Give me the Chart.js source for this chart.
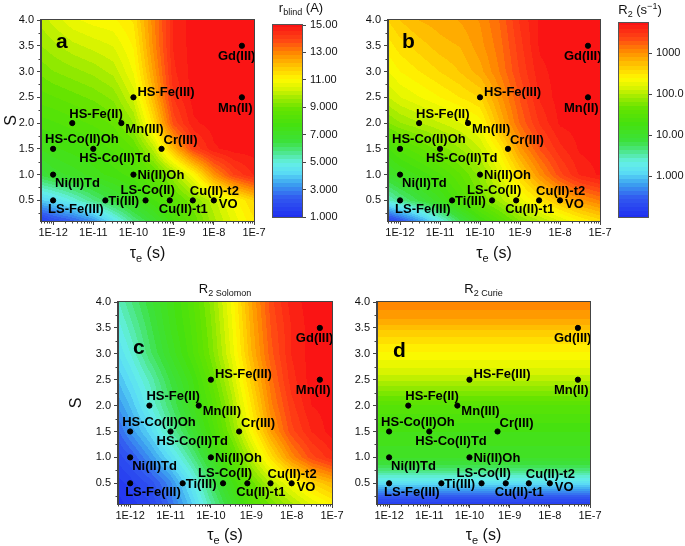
<!DOCTYPE html>
<html>
<head>
<meta charset="utf-8">
<script src="https://cdn.jsdelivr.net/npm/chart.js@4.4.1/dist/chart.umd.min.js"></script>
<style>
  body { margin: 0; background: #fff; }
  #page { position: relative; width: 685px; height: 546px; overflow: hidden; }
  canvas { position: absolute; }
</style>
</head>
<body>
<div id="page">
  <canvas id="chartA" style="left:0px;top:0px" width="268" height="268"></canvas>
  <canvas id="chartB" style="left:345px;top:0px" width="268" height="268"></canvas>
  <canvas id="chartC" style="left:60px;top:280px" width="285" height="266"></canvas>
  <canvas id="chartD" style="left:340px;top:280px" width="280" height="266"></canvas>
  <canvas id="barA" style="left:260px;top:0px" width="85" height="230"></canvas>
  <canvas id="barB" style="left:605px;top:0px" width="80" height="230"></canvas>
</div>
<script>
// ions and their electronic relaxation time / spin
const complexes = ['Gd(III)', 'Mn(II)', 'HS-Fe(III)', 'HS-Fe(II)', 'Mn(III)', 'HS-Co(II)Oh', 'HS-Co(II)Td', 'Cr(III)',
                   'Ni(II)Td', 'Ni(II)Oh', 'LS-Fe(III)', 'Ti(III)', 'LS-Co(II)', 'Cu(II)-t1', 'Cu(II)-t2', 'VO'];
const tauE = [5e-8, 5e-8, 1e-10, 3e-12, 5e-11, 1e-12, 1e-11, 5e-10, 1e-12, 1e-10, 1e-12, 2e-11, 2e-10, 8e-10, 3e-9, 1e-8];
const spinS = [3.5, 2.5, 2.5, 2.0, 2.0, 1.5, 1.5, 1.5, 1.0, 1.0, 0.5, 0.5, 0.5, 0.5, 0.5, 0.5];

const xTickValues = [1e-12, 1e-11, 1e-10, 1e-9, 1e-8, 1e-7];
const xTickLabels = ['1E-12', '1E-11', '1E-10', '1E-9', '1E-8', '1E-7'];
const yTickValues = [0.5, 1.0, 1.5, 2.0, 2.5, 3.0, 3.5, 4.0];
const yTickLabels = ['0.5', '1.0', '1.5', '2.0', '2.5', '3.0', '3.5', '4.0'];

// contour maps: columns = log10(tau_e), rows = S
const gridLogTau = [-12.3, -12, -11.5, -11, -10.5, -10, -9.5, -9, -8.5, -8, -7.5, -7];
const gridSpin = [0.1, 0.5, 1.0, 1.5, 2.0, 2.5, 3.0, 3.5, 4.0];

// r_blind in Angstrom
const rBlind = [
  [1.5, 2.0, 2.5, 3.2, 4.5, 5.8, 6.8, 7.8, 8.8, 9.8, 10.6, 11.3],
  [4.0, 4.3, 5.0, 5.8, 6.5, 7.2, 7.8, 8.5, 9.3, 10.1, 10.9, 11.7],
  [6.5, 6.8, 7.1, 7.4, 7.7, 8.0, 8.6, 9.6, 11.0, 12.8, 14.0, 14.6],
  [7.3, 7.5, 7.7, 7.9, 8.2, 8.7, 10.0, 12.2, 14.0, 14.8, 15, 15],
  [8.0, 8.1, 8.3, 8.5, 8.8, 9.6, 11.5, 13.8, 14.8, 15, 15, 15],
  [8.6, 8.7, 8.9, 9.1, 9.4, 10.3, 12.2, 14.3, 15, 15, 15, 15],
  [9.1, 9.3, 9.5, 9.7, 10.0, 10.8, 12.6, 14.5, 15, 15, 15, 15],
  [9.6, 9.8, 10.1, 10.3, 10.5, 11.1, 12.9, 14.6, 15, 15, 15, 15],
  [10.0, 10.3, 10.7, 10.9, 11.0, 11.4, 13.0, 14.6, 15, 15, 15, 15]
];
// log10 of R2 (s^-1)
const r2Log = [
  [-0.8, -0.6, -0.2, 0.3, 0.8, 1.2, 1.5, 1.8, 2.0, 2.2, 2.4, 2.55],
  [0.4, 0.6, 0.85, 1.1, 1.4, 1.7, 1.95, 2.25, 2.5, 2.75, 2.95, 3.1],
  [1.0, 1.1, 1.25, 1.4, 1.6, 1.85, 2.2, 2.6, 3.0, 3.35, 3.6, 3.7],
  [1.3, 1.45, 1.6, 1.75, 1.9, 2.1, 2.45, 2.95, 3.3, 3.55, 3.7, 3.73],
  [1.8, 1.9, 2.0, 2.1, 2.2, 2.35, 2.8, 3.2, 3.5, 3.7, 3.73, 3.73],
  [2.1, 2.2, 2.3, 2.4, 2.5, 2.6, 2.95, 3.3, 3.6, 3.73, 3.73, 3.73],
  [2.3, 2.4, 2.5, 2.6, 2.7, 2.85, 3.1, 3.4, 3.65, 3.73, 3.73, 3.73],
  [2.45, 2.55, 2.65, 2.75, 2.8, 2.95, 3.15, 3.45, 3.7, 3.73, 3.73, 3.73],
  [2.6, 2.7, 2.8, 2.85, 2.9, 3.0, 3.2, 3.5, 3.7, 3.73, 3.73, 3.73]
];
// relative level of R2 Solomon (0 = blue, 1 = red)
const r2Solomon = [
  [0.0, 0.02, 0.05, 0.12, 0.21, 0.32, 0.42, 0.52, 0.58, 0.63, 0.68, 0.72],
  [0.02, 0.04, 0.08, 0.15, 0.25, 0.36, 0.46, 0.56, 0.64, 0.70, 0.76, 0.80],
  [0.06, 0.09, 0.16, 0.24, 0.33, 0.43, 0.53, 0.64, 0.75, 0.85, 0.92, 0.96],
  [0.11, 0.16, 0.23, 0.32, 0.40, 0.49, 0.59, 0.71, 0.83, 0.92, 0.97, 1],
  [0.16, 0.20, 0.28, 0.36, 0.44, 0.52, 0.62, 0.74, 0.86, 0.94, 0.99, 1],
  [0.20, 0.24, 0.31, 0.39, 0.46, 0.55, 0.65, 0.77, 0.88, 0.96, 1, 1],
  [0.24, 0.28, 0.36, 0.43, 0.50, 0.58, 0.68, 0.80, 0.90, 0.97, 1, 1],
  [0.27, 0.31, 0.38, 0.45, 0.51, 0.59, 0.69, 0.81, 0.91, 0.97, 1, 1],
  [0.30, 0.34, 0.40, 0.46, 0.52, 0.60, 0.70, 0.82, 0.92, 0.98, 1, 1]
];
// R2 Curie only depends on S
const curieSpin = [0.1, 0.25, 0.4, 0.52, 0.65, 0.8, 1.0, 1.5, 2.0, 2.3, 2.6, 2.9, 3.2, 3.45, 3.65, 3.9, 4.0];
const r2Curie = [0.03, 0.10, 0.18, 0.25, 0.30, 0.37, 0.43, 0.47, 0.53, 0.60, 0.66, 0.70, 0.74, 0.78, 0.82, 0.85, 0.86];

// colorbar ticks
const rBlindTicks = [1, 3, 5, 7, 9, 11, 13, 15];
const rBlindLabels = ['1.000', '3.000', '5.000', '7.000', '9.000', '11.00', '13.00', '15.00'];
const r2Ticks = [1, 10, 100, 1000];
const r2Labels = ['1.000', '10.00', '100.0', '1000'];

// label placement next to each point (px)
const labelOffsets = [[-24, 11], [-24, 11], [4, -5], [-3, -9], [4, 6], [-8, -9], [-14, 10], [2, -8],
                      [2, 9], [4, 1], [-5, 9], [3, 1], [-25, -10], [-11, 9], [-3, -9], [5, 4]];

const FONT = '"Liberation Sans", Arial, sans-serif';
const LEVELS = 48; // contour fill steps
const rainbowStops = [
  [0.00, 32, 48, 240], [0.10, 50, 90, 240], [0.17, 60, 160, 240], [0.23, 90, 220, 245],
  [0.28, 100, 240, 230], [0.33, 80, 232, 150], [0.39, 60, 225, 60], [0.48, 70, 225, 15],
  [0.56, 100, 228, 0], [0.62, 160, 235, 0], [0.67, 220, 245, 0], [0.715, 255, 250, 0],
  [0.78, 255, 200, 0], [0.85, 255, 140, 0], [0.92, 255, 70, 20], [1.00, 250, 20, 20]
];

function rainbow(t) {
  t = Math.max(0, Math.min(1, t));
  t = Math.round(t * LEVELS) / LEVELS;
  for (let i = 1; i < rainbowStops.length; i++) {
    const a = rainbowStops[i - 1], b = rainbowStops[i];
    if (t <= b[0]) {
      const f = (t - a[0]) / (b[0] - a[0]);
      return [a[1] + (b[1] - a[1]) * f, a[2] + (b[2] - a[2]) * f, a[3] + (b[3] - a[3]) * f];
    }
  }
  return rainbowStops[rainbowStops.length - 1].slice(1);
}

function locate(arr, v) {
  if (v <= arr[0]) return [0, 0];
  for (let i = 1; i < arr.length; i++) {
    if (v <= arr[i]) return [i - 1, (v - arr[i - 1]) / (arr[i] - arr[i - 1])];
  }
  return [arr.length - 2, 1];
}

function gridLevel(grid, lt, s) {
  const [i, fx] = locate(gridLogTau, lt);
  const [j, fy] = locate(gridSpin, s);
  const a = grid[j][i] * (1 - fx) + grid[j][i + 1] * fx;
  const b = grid[j + 1][i] * (1 - fx) + grid[j + 1][i + 1] * fx;
  return a * (1 - fy) + b * fy;
}

function drawRich(ctx, parts, x, y, align) {
  let w = 0;
  parts.forEach(p => { ctx.font = p.font; w += ctx.measureText(p.text).width; });
  let cx = align === 'center' ? x - w / 2 : x;
  ctx.textAlign = 'left';
  ctx.textBaseline = 'alphabetic';
  ctx.fillStyle = '#111';
  parts.forEach(p => {
    ctx.font = p.font;
    ctx.fillText(p.text, cx, y + (p.dy || 0));
    cx += ctx.measureText(p.text).width;
  });
}

const tauTitle = [
  { text: 'τ', font: '16px ' + FONT },
  { text: 'e', font: '11px ' + FONT, dy: 4 },
  { text: ' (s)', font: '16px ' + FONT }
];

const panelPlugin = {
  id: 'panel',
  beforeDraw(chart, args, o) {
    const { ctx, chartArea: a, scales: { x, y } } = chart;
    const w = Math.round(a.right - a.left), h = Math.round(a.bottom - a.top);
    const off = document.createElement('canvas');
    off.width = w; off.height = h;
    const octx = off.getContext('2d');
    const img = octx.createImageData(w, h);
    for (let j = 0; j < h; j++) {
      const s = y.getValueForPixel(a.top + j + 0.5);
      for (let i = 0; i < w; i++) {
        const lt = Math.log10(x.getValueForPixel(a.left + i + 0.5));
        const c = rainbow(o.level(lt, s));
        const k = (j * w + i) * 4;
        img.data[k] = c[0]; img.data[k + 1] = c[1]; img.data[k + 2] = c[2]; img.data[k + 3] = 255;
      }
    }
    octx.putImageData(img, 0, 0);
    ctx.drawImage(off, a.left, a.top);
  },
  afterDraw(chart, args, o) {
    const { ctx, chartArea: a, scales: { x, y } } = chart;
    ctx.save();
    // point labels
    const meta = chart.getDatasetMeta(0);
    ctx.font = 'bold 13px ' + FONT;
    ctx.fillStyle = '#000';
    ctx.textAlign = 'left';
    ctx.textBaseline = 'middle';
    meta.data.forEach((pt, i) => {
      ctx.fillText(complexes[i], pt.x + labelOffsets[i][0], pt.y + labelOffsets[i][1]);
    });
    // frame
    ctx.strokeStyle = '#444';
    ctx.lineWidth = 1;
    ctx.strokeRect(a.left - 0.5, a.top - 0.5, a.right - a.left + 1, a.bottom - a.top + 1);
    // minor ticks
    ctx.beginPath();
    for (let e = -13; e <= -8; e++) {
      for (let m = 2; m <= 9; m++) {
        const v = m * Math.pow(10, e);
        if (v < x.min || v > x.max) continue;
        const px = Math.round(x.getPixelForValue(v)) + 0.5;
        ctx.moveTo(px, a.bottom); ctx.lineTo(px, a.bottom + 2.5);
      }
    }
    for (let v = 0.25; v < 4; v += 0.5) {
      const py = Math.round(y.getPixelForValue(v)) + 0.5;
      ctx.moveTo(a.left, py); ctx.lineTo(a.left - 2.5, py);
    }
    ctx.stroke();
    // panel letter
    ctx.font = 'bold 21px ' + FONT;
    ctx.fillStyle = '#000';
    ctx.textBaseline = 'alphabetic';
    ctx.fillText(o.letter, a.left + o.letterPos[0], a.top + o.letterPos[1]);
    // axis titles
    const cx = (a.left + a.right) / 2;
    drawRich(ctx, tauTitle, cx, a.bottom + o.xTitleGap, 'center');
    if (o.yTitleX) {
      ctx.save();
      ctx.translate(o.yTitleX, (a.top + a.bottom) / 2);
      ctx.rotate(-Math.PI / 2);
      ctx.font = '16px ' + FONT;
      ctx.fillStyle = '#111';
      ctx.textAlign = 'center';
      ctx.textBaseline = 'middle';
      ctx.fillText('S', 0, 0);
      ctx.restore();
    }
    if (o.title) drawRich(ctx, o.title, cx, a.top - 9, 'center');
    ctx.restore();
  }
};

function makePanel(id, area, w, h, opts) {
  const tickFont = { family: FONT, size: 11 };
  return new Chart(document.getElementById(id), {
    type: 'scatter',
    data: {
      datasets: [{
        data: tauE.map((t, i) => ({ x: t, y: spinS[i] })),
        backgroundColor: '#000',
        borderColor: '#000',
        pointRadius: 2.6,
        pointHoverRadius: 2.6
      }]
    },
    options: {
      responsive: false,
      animation: false,
      devicePixelRatio: 1,
      events: [],
      layout: { padding: { top: area.top, right: w - area.right, left: 0, bottom: 0 } },
      scales: {
        x: {
          type: 'logarithmic',
          min: 5e-13,
          max: 1e-7,
          afterFit: s => { s.height = h - area.bottom; },
          afterBuildTicks: s => { s.ticks = xTickValues.map(v => ({ value: v })); },
          ticks: { callback: (v, i) => xTickLabels[i], font: tickFont, color: '#111', padding: 1, maxRotation: 0, autoSkip: false },
          grid: { drawOnChartArea: false, tickLength: 4, tickColor: '#444' },
          border: { color: '#444' }
        },
        y: {
          min: 0.1,
          max: 4.0,
          afterFit: s => { s.width = area.left; },
          afterBuildTicks: s => { s.ticks = yTickValues.map(v => ({ value: v })); },
          ticks: { callback: (v, i) => yTickLabels[i], font: tickFont, color: '#111', padding: 3, autoSkip: false },
          grid: { drawOnChartArea: false, tickLength: 4, tickColor: '#444' },
          border: { color: '#444' }
        }
      },
      plugins: { legend: { display: false }, tooltip: { enabled: false }, panel: opts }
    },
    plugins: [panelPlugin]
  });
}

const barPlugin = {
  id: 'bar',
  beforeDraw(chart, args, o) {
    const { ctx, chartArea: a, scales: { y } } = chart;
    for (let j = Math.floor(a.top); j < a.bottom; j++) {
      const c = rainbow(o.level(y.getValueForPixel(j + 0.5)));
      ctx.fillStyle = `rgb(${c[0] | 0},${c[1] | 0},${c[2] | 0})`;
      ctx.fillRect(a.left, j, a.right - a.left, 1);
    }
  },
  afterDraw(chart, args, o) {
    const { ctx, chartArea: a } = chart;
    ctx.save();
    ctx.strokeStyle = '#555';
    ctx.lineWidth = 1;
    ctx.strokeRect(a.left - 0.5, a.top - 0.5, a.right - a.left + 1, a.bottom - a.top + 1);
    drawRich(ctx, o.title, o.titleX, o.titleY, 'center');
    ctx.restore();
  }
};

function makeBar(id, area, w, h, yOpts, opts) {
  return new Chart(document.getElementById(id), {
    type: 'scatter',
    data: { datasets: [] },
    options: {
      responsive: false,
      animation: false,
      devicePixelRatio: 1,
      events: [],
      layout: { padding: { top: area.top, left: area.left, right: 0, bottom: h - area.bottom } },
      scales: {
        x: { display: false },
        y: Object.assign({
          position: 'right',
          afterFit: s => { s.width = w - area.right; },
          grid: { drawOnChartArea: false, tickLength: 4, tickColor: '#444' },
          border: { color: '#555' }
        }, yOpts)
      },
      plugins: { legend: { display: false }, tooltip: { enabled: false }, bar: opts }
    },
    plugins: [barPlugin]
  });
}

document.addEventListener('DOMContentLoaded', function() {
  makePanel('chartA', { left: 41, top: 20, right: 254, bottom: 221 }, 268, 268, {
    level: (lt, s) => (gridLevel(rBlind, lt, s) - 1) / 14,
    letter: 'a', letterPos: [15, 28], xTitleGap: 37, yTitleX: 12
  });
  makePanel('chartB', { left: 43, top: 20, right: 255, bottom: 221 }, 268, 268, {
    level: (lt, s) => (gridLevel(r2Log, lt, s) + 1) / 4.73,
    letter: 'b', letterPos: [14, 28], xTitleGap: 37
  });
  makePanel('chartC', { left: 58, top: 22, right: 272, bottom: 224 }, 285, 266, {
    level: (lt, s) => gridLevel(r2Solomon, lt, s),
    letter: 'c', letterPos: [15, 52], xTitleGap: 36, yTitleX: 17,
    title: [{ text: 'R', font: '13px ' + FONT }, { text: '2 Solomon', font: '9px ' + FONT, dy: 3 }]
  });
  makePanel('chartD', { left: 37, top: 22, right: 250, bottom: 224 }, 280, 266, {
    level: (lt, s) => { const [j, f] = locate(curieSpin, s); return r2Curie[j] * (1 - f) + r2Curie[j + 1] * f; },
    letter: 'd', letterPos: [16, 55], xTitleGap: 36,
    title: [{ text: 'R', font: '13px ' + FONT }, { text: '2 Curie', font: '9px ' + FONT, dy: 3 }]
  });

  const barTickFont = { family: FONT, size: 11 };
  makeBar('barA', { left: 13, top: 25, right: 42, bottom: 217 }, 85, 230, {
    min: 1, max: 15,
    afterBuildTicks: s => { s.ticks = rBlindTicks.map(v => ({ value: v })); },
    ticks: { callback: (v, i) => rBlindLabels[i], font: barTickFont, color: '#111', padding: 4, autoSkip: false }
  }, {
    level: v => (v - 1) / 14,
    titleX: 41, titleY: 12,
    title: [{ text: 'r', font: '13px ' + FONT }, { text: 'blind', font: '9px ' + FONT, dy: 3 }, { text: ' (A)', font: '13px ' + FONT }]
  });
  makeBar('barB', { left: 14, top: 23, right: 43, bottom: 217 }, 80, 230, {
    type: 'logarithmic', min: 0.1, max: 5400,
    afterBuildTicks: s => { s.ticks = r2Ticks.map(v => ({ value: v })); },
    ticks: { callback: (v, i) => r2Labels[i], font: barTickFont, color: '#111', padding: 4, autoSkip: false }
  }, {
    level: v => (Math.log10(v) + 1) / 4.73,
    titleX: 35, titleY: 14,
    title: [{ text: 'R', font: '13px ' + FONT }, { text: '2', font: '9px ' + FONT, dy: 3 }, { text: ' (s', font: '13px ' + FONT },
            { text: '−1', font: '9px ' + FONT, dy: -5 }, { text: ')', font: '13px ' + FONT }]
  });
});
</script>
</body>
</html>
